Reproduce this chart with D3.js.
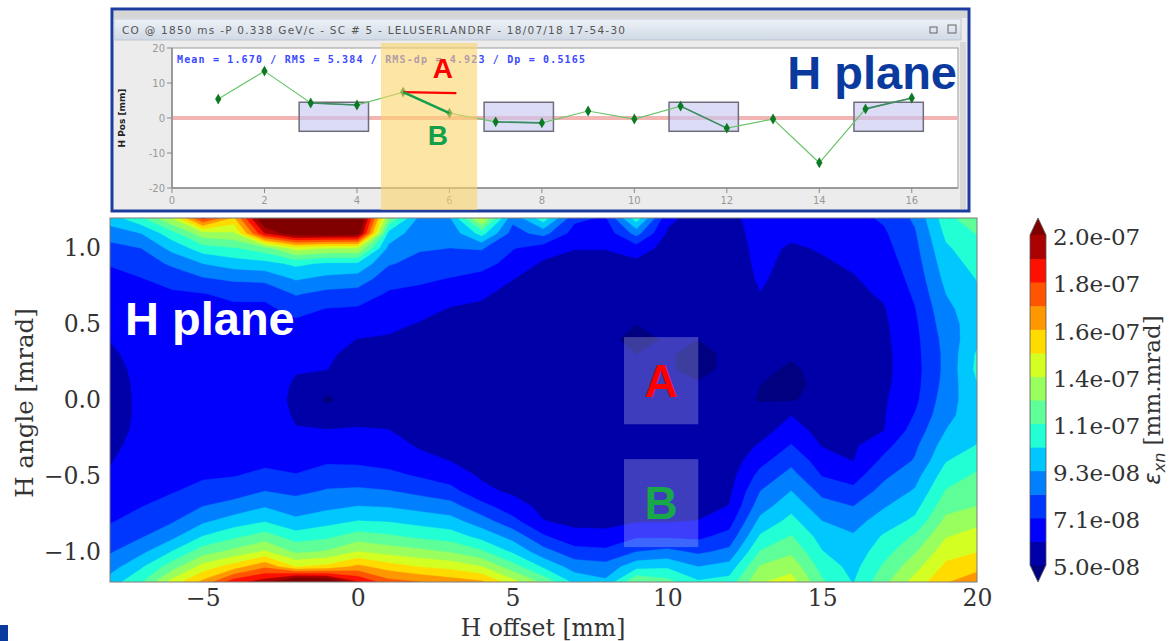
<!DOCTYPE html>
<html><head><meta charset="utf-8">
<script src="https://cdn.jsdelivr.net/npm/d3@7"></script>
<style>
html,body{margin:0;padding:0;background:#fff;}
svg{display:block;}
</style></head>
<body>
<svg id="fig" width="1171" height="641"></svg>
<script>
// ---- Emittance scan: horizontal offset (mm) x horizontal angle (mrad) ----
const offsets = [-8,-7,-6,-5,-4,-3,-2,-1,0,1,2,3,4,5,6,7,8,9,10,11,12,13,14,15,16,17,18,19,20];
const angles = [1.2,1.1,1.0,0.9,0.8,0.7,0.6,0.5,0.4,0.3,0.2,0.1,0.0,-0.1,-0.2,-0.3,-0.4,-0.5,-0.6,-0.7,-0.8,-0.9,-1.0,-1.1,-1.2];
// normalised emittance in units of 1e-8 mm.mrad, one column per offset, angles top to bottom
const emittanceByOffset = [
  [9.8,8.8,7.8,7.2,6.9,6.7,6.5,6.3,6.1,5.9,5.7,5.6,5.5,5.5,5.6,5.8,6.0,6.2,6.5,6.8,7.05,7.6,8.1,8.8,9.8],
  [11.2,9.3,8.2,7.6,7.1,6.9,6.7,6.6,6.5,6.4,6.35,6.3,6.3,6.3,6.35,6.45,6.6,6.8,7.0,7.1,7.6,8.1,9.0,10.2,11.3],
  [13.6,11.0,9.6,8.4,7.5,7.0,6.8,6.7,6.6,6.55,6.5,6.5,6.5,6.5,6.55,6.6,6.7,6.85,7.05,7.6,8.1,9.0,10.4,12.0,14.0],
  [18.2,13.2,10.9,9.3,8.1,7.1,6.8,6.7,6.6,6.5,6.5,6.45,6.45,6.5,6.55,6.65,6.8,7.0,7.5,8.2,9.1,10.4,12.0,14.0,16.0],
  [15.5,13.4,11.3,9.8,8.4,7.4,6.9,6.7,6.6,6.5,6.45,6.4,6.4,6.45,6.5,6.6,6.8,7.1,7.7,8.6,9.8,11.2,12.8,15.2,18.5],
  [21.5,19.0,12.0,10.0,8.5,7.4,6.9,6.6,6.5,6.4,6.4,6.35,6.35,6.4,6.45,6.6,6.9,7.4,8.2,9.2,10.3,11.9,13.7,16.6,19.5],
  [23.0,21.0,14.0,10.6,9.4,8.3,7.5,6.9,6.6,6.3,6.1,6.0,5.95,6.0,6.1,6.4,6.8,7.2,7.9,8.8,9.5,10.9,12.3,14.6,22.0],
  [23.0,21.0,13.5,10.2,9.0,7.9,7.1,6.6,6.35,6.2,6.08,5.3,4.8,5.6,6.1,6.6,7.0,7.6,8.3,9.0,10.0,11.2,12.6,15.0,21.5],
  [22.0,20.8,13.5,10.2,8.8,7.8,7.0,6.6,6.05,5.8,5.6,5.5,5.5,5.6,6.2,6.7,6.95,7.6,8.4,9.3,10.4,11.9,13.6,16.0,19.0],
  [12.5,10.0,9.0,8.3,7.6,7.0,6.6,6.3,5.95,5.7,5.55,5.5,5.45,5.6,6.1,6.5,6.8,7.4,8.25,9.2,10.3,11.6,13.1,15.2,17.2],
  [9.0,8.6,8.3,7.9,7.3,6.9,6.4,6.0,5.7,5.5,5.4,5.35,5.35,5.35,5.45,5.95,6.4,7.05,7.9,8.9,10.0,11.2,12.8,14.6,16.8],
  [9.3,8.6,8.2,7.6,7.1,6.5,6.0,5.7,5.5,5.4,5.35,5.3,5.3,5.3,5.35,5.5,6.05,6.6,7.5,8.6,9.7,10.9,12.4,14.3,16.3],
  [14.0,10.8,8.3,7.5,6.8,6.2,5.9,5.6,5.4,5.3,5.25,5.25,5.25,5.25,5.3,5.4,5.6,5.95,6.3,7.5,8.7,10.0,11.6,13.6,15.9],
  [8.5,7.8,7.2,6.8,6.1,5.8,5.6,5.45,5.35,5.3,5.25,5.2,5.2,5.2,5.2,5.25,5.35,5.5,5.9,6.5,7.5,8.9,10.2,11.9,14.0],
  [11.0,8.6,6.6,5.9,5.6,5.4,5.3,5.25,5.2,5.2,5.15,5.15,5.15,5.15,5.15,5.2,5.25,5.35,5.5,5.8,6.1,7.3,8.6,10.2,12.2],
  [7.4,6.7,6.1,5.8,5.6,5.45,5.35,5.3,5.25,5.2,5.2,5.15,5.15,5.15,5.15,5.2,5.2,5.3,5.4,5.6,5.9,6.3,7.6,8.8,10.1],
  [7.0,6.5,6.1,5.8,5.6,5.45,5.35,5.3,5.25,5.2,5.15,5.15,5.1,5.1,5.1,5.15,5.2,5.3,5.4,5.6,5.85,6.3,7.4,8.6,9.5],
  [11.0,8.6,6.6,5.8,5.5,5.35,5.2,5.0,4.7,5.0,5.15,5.2,5.2,5.2,5.2,5.2,5.25,5.3,5.4,5.6,6.0,7.0,8.2,10.0,12.5],
  [6.3,5.95,5.7,5.5,5.4,5.3,5.25,5.2,5.1,5.1,5.1,5.15,5.2,5.2,5.2,5.2,5.25,5.3,5.45,5.7,6.0,7.0,8.5,10.2,11.8],
  [5.7,5.6,5.5,5.45,5.4,5.35,5.3,5.2,5.0,4.7,4.75,5.1,5.25,5.3,5.3,5.3,5.35,5.4,5.5,5.75,6.1,6.9,8.0,9.3,10.5],
  [5.8,5.7,5.6,5.5,5.45,5.4,5.35,5.3,5.25,5.2,5.2,5.2,5.25,5.3,5.35,5.4,5.5,5.65,5.85,6.1,6.7,7.5,8.5,9.7,10.8],
  [6.5,6.4,6.35,6.3,6.2,6.05,5.85,5.6,5.4,5.3,5.2,5.0,4.95,5.3,5.6,6.2,6.8,7.5,8.2,8.8,9.6,10.5,11.5,12.6,13.5],
  [6.6,6.25,5.95,5.8,5.7,5.6,5.5,5.4,5.3,5.1,4.85,4.7,4.9,6.05,6.6,7.2,7.9,8.6,9.3,10.0,10.7,11.5,12.3,13.2,14.0],
  [6.7,6.45,6.15,5.95,5.8,5.7,5.6,5.5,5.4,5.35,5.3,5.3,5.35,5.45,5.65,6.0,6.6,7.1,7.9,8.6,9.3,9.9,10.4,11.0,11.6],
  [6.8,6.6,6.4,6.2,6.0,5.85,5.75,5.7,5.65,5.6,5.6,5.6,5.6,5.65,5.75,5.9,6.05,6.7,7.4,8.2,8.9,9.4,9.7,10.0,10.3],
  [7.3,7.0,6.8,6.6,6.4,6.2,6.0,5.9,5.85,5.8,5.8,5.85,5.95,6.0,6.05,6.8,7.4,8.0,8.6,9.2,9.8,10.5,11.0,11.6,12.2],
  [8.4,8.1,7.9,7.7,7.5,7.3,7.1,6.95,6.85,6.8,6.75,6.8,6.9,7.2,7.6,8.0,8.3,8.9,9.4,10.0,10.6,11.6,12.4,13.2,14.0],
  [11.0,10.6,10.2,9.9,9.6,9.3,9.0,8.8,8.6,8.5,8.5,8.6,8.8,9.0,9.3,9.8,10.3,10.9,11.5,12.1,12.8,13.5,14.2,14.9,15.6],
  [12.4,11.5,11.0,10.7,10.4,10.2,10.0,9.9,10.1,10.5,10.6,10.3,10.0,9.9,10.0,10.4,11.0,11.6,12.0,12.5,13.3,14.0,14.6,15.3,16.5]
];
// contour levels (1e-8 mm.mrad) and colour-bar tick labels
const levels = [5.0,6.07,7.14,8.21,9.29,10.36,11.43,12.5,13.57,14.64,15.71,16.79,17.86,18.93,20.0];
const colorbarTickLevels = [5.0,7.14,9.29,11.43,13.57,15.71,17.86,20.0];
const colorbarTickLabels = ["5.0e-08","7.1e-08","9.3e-08","1.1e-07","1.4e-07","1.6e-07","1.8e-07","2.0e-07"];
const offsetTicks = [-5,0,5,10,15,20];
const angleTicks = [-1.0,-0.5,0.0,0.5,1.0];
// regions marked A and B (offset range, angle range)
const regionNames = ["A","B"];
const regionOffsets = [[8.6,11.0],[8.6,11.0]];
const regionAngles = [[-0.16,0.415],[-0.97,-0.39]];

// ---- Closed-orbit display: horizontal position per monitor ----
const monitors = [1,2,3,4,5,6,7,8,9,10,11,12,13,14,15,16];
const hPos = [5.4,13.4,4.3,3.7,7.4,1.4,-1.1,-1.4,2.0,-0.3,3.4,-2.9,-0.3,-12.8,2.6,5.7];
const boxCentres = [3.5,7.5,11.5,15.5];
const boxHalfWidth = 0.75;
const boxRange = [-3.8,4.5];
const highlightRange = [4.52,6.6];
const insetXTicks = [0,2,4,6,8,10,12,14,16];
const insetYTicks = [-20,-10,0,10,20];

// jet colour map
const jr = d3.scaleLinear([0,0.35,0.66,0.89,1],[0,0,1,1,0.5]).clamp(true);
const jg = d3.scaleLinear([0,0.125,0.375,0.64,0.91,1],[0,0,1,1,0,0]).clamp(true);
const jb = d3.scaleLinear([0,0.11,0.34,0.65,1],[0.5,1,1,0,0]).clamp(true);
const jet = t => d3.rgb(jr(t)*255, jg(t)*255, jb(t)*255).formatHex();
const nBands = levels.length - 1;
const bandColor = k => jet((k + 0.5) / nBands);       // k = 0..nBands-1
const underColor = jet(0), overColor = jet(1);

const svg = d3.select("#fig");
const serif = "'DejaVu Serif', serif";

// ================= main contour plot =================
const xScale = d3.scaleLinear([-8, 20], [110, 977]);
const yScale = d3.scaleLinear([-1.2, 1.2], [582, 218]);

const n = offsets.length, m = angles.length;
const grid = new Array(n * m);
for (let j = 0; j < m; j++) for (let i = 0; i < n; i++) grid[j * n + i] = emittanceByOffset[i][j];

const gx = d3.scaleLinear([0.5, n - 0.5], [offsets[0], offsets[n - 1]]);
const gy = d3.scaleLinear([0.5, m - 0.5], [angles[0], angles[m - 1]]);
const proj = d3.geoTransform({ point(x, y) { this.stream.point(xScale(gx(x)), yScale(gy(y))); } });
const path = d3.geoPath(proj);

svg.append("clipPath").attr("id", "plotclip").append("rect")
  .attr("x", 110).attr("y", 218).attr("width", 867).attr("height", 364);

const plot = svg.append("g").attr("clip-path", "url(#plotclip)");
plot.append("rect").attr("x", 110).attr("y", 218).attr("width", 867).attr("height", 364).attr("fill", underColor);

const contours = d3.contours().size([n, m]).thresholds(levels)(grid);
plot.selectAll("path.band").data(contours).join("path")
  .attr("class", "band")
  .attr("d", path)
  .attr("fill", (d, i) => i < nBands ? bandColor(i) : overColor)
  .attr("stroke", (d, i) => i < nBands ? bandColor(i) : overColor)
  .attr("stroke-width", 0.4);

// marked regions
const regions = plot.selectAll("g.region").data(regionNames).join("g").attr("class", "region");
regions.append("rect")
  .attr("x", (d, i) => xScale(regionOffsets[i][0]))
  .attr("width", (d, i) => xScale(regionOffsets[i][1]) - xScale(regionOffsets[i][0]))
  .attr("y", (d, i) => yScale(regionAngles[i][1]))
  .attr("height", (d, i) => yScale(regionAngles[i][0]) - yScale(regionAngles[i][1]))
  .attr("fill", "#ffffff").attr("fill-opacity", 0.24);
regions.append("text")
  .attr("x", (d, i) => xScale((regionOffsets[i][0] + regionOffsets[i][1]) / 2))
  .attr("y", (d, i) => yScale((regionAngles[i][0] + regionAngles[i][1]) / 2) + 16)
  .attr("text-anchor", "middle")
  .attr("font-family", "'Liberation Sans', Arial, sans-serif").attr("font-weight", "bold").attr("font-size", 46)
  .attr("fill", (d, i) => i === 0 ? "#ff0000" : "#18a84a")
  .text(d => d);

plot.append("text").attr("x", 125).attr("y", 335)
  .attr("font-family", "'Liberation Sans', Arial, sans-serif").attr("font-weight", "bold").attr("font-size", 47)
  .attr("fill", "#ffffff").text("H plane");

svg.append("rect").attr("x", 110).attr("y", 218).attr("width", 867).attr("height", 364)
  .attr("fill", "none").attr("stroke", "#7a7a7a").attr("stroke-width", 1);

// axes
const xAxis = svg.append("g").attr("transform", "translate(0,582)")
  .call(d3.axisBottom(xScale).tickValues(offsetTicks).tickSize(0).tickPadding(7).tickFormat(d3.format("d")));
const yAxis = svg.append("g").attr("transform", "translate(110,0)")
  .call(d3.axisLeft(yScale).tickValues(angleTicks).tickSize(0).tickPadding(9).tickFormat(d3.format(".1f")));
[xAxis, yAxis].forEach(a => {
  a.select(".domain").remove();
  a.selectAll("text").attr("font-family", serif).attr("font-size", 23.5).attr("fill", "#333");
});

svg.append("text").attr("x", 543).attr("y", 636).attr("text-anchor", "middle")
  .attr("font-family", serif).attr("font-size", 23.5).attr("fill", "#333").text("H offset [mm]");
svg.append("text").attr("transform", "translate(33,403) rotate(-90)").attr("text-anchor", "middle")
  .attr("font-family", serif).attr("font-size", 24.5).attr("fill", "#333").text("H angle [mrad]");

// colour bar
const cbScale = d3.scaleLinear([levels[0], levels[nBands]], [565, 235]);
const cbX = 1030, cbW = 16;
const cb = svg.append("g");
cb.selectAll("rect").data(d3.range(nBands)).join("rect")
  .attr("x", cbX).attr("width", cbW)
  .attr("y", k => cbScale(levels[k + 1]))
  .attr("height", k => cbScale(levels[k]) - cbScale(levels[k + 1]) + 0.5)
  .attr("fill", k => bandColor(k));
cb.append("path").attr("d", `M${cbX},${cbScale(levels[nBands])}L${cbX + cbW / 2},218L${cbX + cbW},${cbScale(levels[nBands])}Z`).attr("fill", overColor);
cb.append("path").attr("d", `M${cbX},${cbScale(levels[0])}L${cbX + cbW / 2},582L${cbX + cbW},${cbScale(levels[0])}Z`).attr("fill", underColor);
cb.append("path")
  .attr("d", `M${cbX},${cbScale(levels[nBands])}L${cbX + cbW / 2},218L${cbX + cbW},${cbScale(levels[nBands])}L${cbX + cbW},${cbScale(levels[0])}L${cbX + cbW / 2},582L${cbX},${cbScale(levels[0])}Z`)
  .attr("fill", "none").attr("stroke", "#555").attr("stroke-width", 0.8);
cb.selectAll("text.tick").data(colorbarTickLevels).join("text").attr("class", "tick")
  .attr("x", 1053).attr("y", d => cbScale(d)).attr("dy", "0.45em")
  .attr("font-family", serif).attr("font-size", 23).attr("fill", "#333")
  .text((d, i) => colorbarTickLabels[i]);
const cbLabel = svg.append("text").attr("transform", "translate(1160,400) rotate(-90)").attr("text-anchor", "middle")
  .attr("font-family", serif).attr("font-size", 23).attr("fill", "#333");
cbLabel.append("tspan").attr("font-family", "'DejaVu Sans', sans-serif").attr("font-style", "italic").text("ε");
cbLabel.append("tspan").attr("font-family", "'DejaVu Sans', sans-serif").attr("font-style", "italic").attr("font-size", 16).attr("dy", 5).text("xn");
cbLabel.append("tspan").attr("dy", -5).text(" [mm.mrad]");

// slide marker, bottom-left
svg.append("rect").attr("x", 0).attr("y", 625).attr("width", 8).attr("height", 16).attr("fill", "#0a3a9e");

// ================= closed-orbit display window =================
const ix = d3.scaleLinear([0, 17], [172, 958]);
const iy = d3.scaleLinear([-20, 20], [188, 48]);
const win = svg.append("g");
win.append("rect").attr("x", 112).attr("y", 9).attr("width", 857).attr("height", 202)
  .attr("fill", "#ececec").attr("stroke", "#1c3ca0").attr("stroke-width", 3);
win.append("rect").attr("x", 114).attr("y", 11).attr("width", 853).attr("height", 7).attr("fill", "#d6d6d6");
const grad = svg.append("defs").append("linearGradient").attr("id", "titlebar").attr("x1", 0).attr("x2", 0).attr("y1", 0).attr("y2", 1);
grad.append("stop").attr("offset", "0%").attr("stop-color", "#eef2f7");
grad.append("stop").attr("offset", "100%").attr("stop-color", "#cfd9e5");
win.append("rect").attr("x", 114).attr("y", 19).attr("width", 847).attr("height", 21)
  .attr("fill", "url(#titlebar)").attr("stroke", "#b9c4d0").attr("stroke-width", 0.8);
win.append("text").attr("x", 122).attr("y", 34).attr("textLength", 503)
  .attr("font-family", "'DejaVu Sans', sans-serif").attr("font-size", 10.5).attr("fill", "#555")
  .text("CO @ 1850 ms -P    0.338 GeV/c - SC # 5  - LELUSERLANDRF - 18/07/18 17-54-30");
win.append("rect").attr("x", 930).attr("y", 27).attr("width", 7).attr("height", 6).attr("fill", "none").attr("stroke", "#666").attr("stroke-width", 1);
win.append("rect").attr("x", 948).attr("y", 25).attr("width", 8).attr("height", 8).attr("fill", "none").attr("stroke", "#666").attr("stroke-width", 1);
win.append("rect").attr("x", 960).attr("y", 42).attr("width", 6).attr("height", 167).attr("fill", "#d8d8d8");

// plotting area
win.append("rect").attr("x", ix(0)).attr("y", iy(20)).attr("width", ix(17) - ix(0)).attr("height", iy(-20) - iy(20))
  .attr("fill", "#ffffff").attr("stroke", "#9a9a9a").attr("stroke-width", 1);
win.append("line").attr("x1", ix(0)).attr("x2", ix(0)).attr("y1", iy(20)).attr("y2", iy(-20)).attr("stroke", "#9a9a9a").attr("stroke-width", 2);
win.append("line").attr("x1", ix(0)).attr("x2", ix(17)).attr("y1", iy(-20)).attr("y2", iy(-20)).attr("stroke", "#9a9a9a").attr("stroke-width", 2);
win.selectAll("line.yt").data(insetYTicks).join("line").attr("class", "yt")
  .attr("x1", ix(0) - 5).attr("x2", ix(0)).attr("y1", d => iy(d)).attr("y2", d => iy(d)).attr("stroke", "#888");
win.selectAll("text.yt").data(insetYTicks).join("text").attr("class", "yt")
  .attr("x", ix(0) - 7).attr("y", d => iy(d)).attr("dy", "0.35em").attr("text-anchor", "end")
  .attr("font-family", "'DejaVu Sans', sans-serif").attr("font-size", 10).attr("fill", "#999").text(d => d);
win.selectAll("line.xt").data(insetXTicks).join("line").attr("class", "xt")
  .attr("x1", d => ix(d)).attr("x2", d => ix(d)).attr("y1", iy(-20)).attr("y2", iy(-20) + 5).attr("stroke", "#888");
win.selectAll("text.xt").data(insetXTicks).join("text").attr("class", "xt")
  .attr("x", d => ix(d)).attr("y", iy(-20) + 16).attr("text-anchor", "middle")
  .attr("font-family", "'DejaVu Sans', sans-serif").attr("font-size", 10).attr("fill", "#999").text(d => d);
win.append("text").attr("transform", `translate(125,${iy(0)}) rotate(-90)`).attr("text-anchor", "middle")
  .attr("font-family", "'DejaVu Sans', sans-serif").attr("font-weight", "bold").attr("font-size", 9).attr("fill", "#222")
  .text("H Pos [mm]");

// reference line at zero
win.append("line").attr("x1", ix(0) + 1).attr("x2", ix(17)).attr("y1", iy(0)).attr("y2", iy(0))
  .attr("stroke", "#f3b4b4").attr("stroke-width", 4);
// corrector boxes
win.selectAll("rect.box").data(boxCentres).join("rect").attr("class", "box")
  .attr("x", d => ix(d - boxHalfWidth)).attr("width", d => ix(d + boxHalfWidth) - ix(d - boxHalfWidth))
  .attr("y", iy(boxRange[1])).attr("height", iy(boxRange[0]) - iy(boxRange[1]))
  .attr("fill", "#c4c4f2").attr("fill-opacity", 0.6).attr("stroke", "#6e6e7a").attr("stroke-width", 1.5);
// orbit
const orbit = monitors.map((d, i) => [d, hPos[i]]);
win.append("path").attr("d", d3.line().x(d => ix(d[0])).y(d => iy(d[1]))(orbit))
  .attr("fill", "none").attr("stroke", "#6cc46c").attr("stroke-width", 1.2);
const inBox = boxCentres.map(c => orbit.filter(p => Math.abs(p[0] - c) < 1));
win.selectAll("path.boxseg").data(inBox).join("path").attr("class", "boxseg")
  .attr("d", d3.line().x(d => ix(d[0])).y(d => iy(d[1])))
  .attr("fill", "none").attr("stroke", "#3f8a66").attr("stroke-width", 1.6);
win.selectAll("path.mk").data(orbit).join("path").attr("class", "mk")
  .attr("transform", d => `translate(${ix(d[0])},${iy(d[1])})`)
  .attr("d", d3.symbol(d3.symbolDiamond, 34)).attr("fill", "#0c7a24");
// statistics line
win.append("text").attr("x", 177).attr("y", 63).attr("textLength", 408)
  .attr("font-family", "'DejaVu Sans Mono', monospace").attr("font-weight", "bold").attr("font-size", 10).attr("fill", "#3a48ff")
  .text("Mean =  1.670 / RMS =  5.384 / RMS-dp =  4.923 / Dp =  0.5165");
// highlighted monitors
win.append("rect").attr("x", ix(highlightRange[0])).attr("width", ix(highlightRange[1]) - ix(highlightRange[0]))
  .attr("y", 43).attr("height", 167).attr("fill", "#fcd36a").attr("fill-opacity", 0.6);
// slope annotations
const p5 = orbit[4], p6 = orbit[5];
win.append("line").attr("x1", ix(p5[0])).attr("y1", iy(p5[1])).attr("x2", ix(6.15)).attr("y2", iy(7.1))
  .attr("stroke", "#ff0000").attr("stroke-width", 2.2);
win.append("line").attr("x1", ix(p5[0])).attr("y1", iy(p5[1])).attr("x2", ix(p6[0])).attr("y2", iy(p6[1]))
  .attr("stroke", "#12a04a").attr("stroke-width", 2.6);
win.append("text").attr("x", ix(5.86)).attr("y", iy(11.4)).attr("text-anchor", "middle")
  .attr("font-family", "'Liberation Sans', Arial, sans-serif").attr("font-weight", "bold").attr("font-size", 28)
  .attr("fill", "#ff0000").text("A");
win.append("text").attr("x", ix(5.75)).attr("y", iy(-7.7)).attr("text-anchor", "middle")
  .attr("font-family", "'Liberation Sans', Arial, sans-serif").attr("font-weight", "bold").attr("font-size", 28)
  .attr("fill", "#12a04a").text("B");
win.append("text").attr("x", 957).attr("y", 89).attr("text-anchor", "end")
  .attr("font-family", "'Liberation Sans', Arial, sans-serif").attr("font-weight", "bold").attr("font-size", 47)
  .attr("fill", "#0b3a9e").text("H plane");
</script>
</body></html>
